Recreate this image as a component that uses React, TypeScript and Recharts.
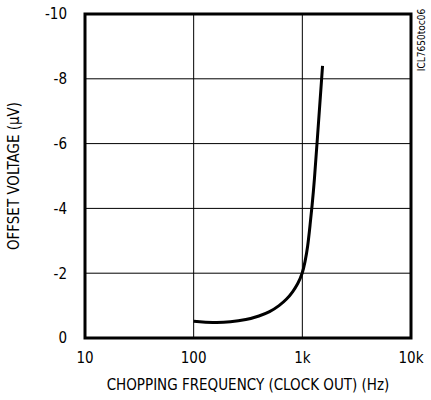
import { LineChart, Line, XAxis, YAxis, CartesianGrid, ReferenceArea } from 'recharts';

// Offset voltage vs chopping frequency (log x)
const freqHz = [100, 150, 220, 304, 403, 500, 615, 720, 815, 910, 1000, 1060, 1121, 1175, 1230, 1291, 1364, 1535];
const offsetUv = [-0.52, -0.47, -0.49, -0.56, -0.68, -0.8, -1.0, -1.2, -1.42, -1.67, -1.98, -2.35, -2.81, -3.45, -4.08, -4.86, -5.99, -8.4];

const xTicks = [10, 100, 1000, 10000];
const xTickLabels = ['10', '100', '1k', '10k'];
const yTicks = [-10, -8, -6, -4, -2, 0];

const data = freqHz.map((f, i) => ({ f, v: offsetUv[i] }));

const font = "'Liberation Sans Narrow', 'DejaVu Sans Condensed', Arial, sans-serif";

export default function App() {
  return (
    <div style={{ position: 'fixed', left: 0, top: 0, width: 431, height: 400, background: '#fff', fontFamily: font }}>
      <LineChart width={431} height={400} data={data} margin={{ top: 14, right: 20, left: 0, bottom: 0 }}>
        <CartesianGrid stroke="#000" strokeWidth={1} />
        <XAxis
          dataKey="f"
          type="number"
          scale="log"
          domain={[10, 10000]}
          ticks={xTicks}
          tickFormatter={(v: number) => xTickLabels[xTicks.indexOf(v)] ?? String(v)}
          allowDataOverflow
          axisLine={false}
          tickLine={false}
          tickSize={0}
          tickMargin={14}
          height={62}
          tick={{ fill: '#000', fontSize: 15, fontFamily: font }}
          label={{ value: 'CHOPPING FREQUENCY (CLOCK OUT) (Hz)', position: 'insideBottom', offset: 10, fill: '#000', fontSize: 15, fontFamily: font }}
        />
        <YAxis
          type="number"
          domain={[-10, 0]}
          reversed
          ticks={yTicks}
          interval={0}
          axisLine={false}
          tickLine={false}
          tickSize={0}
          tickMargin={18}
          width={85}
          tick={{ fill: '#000', fontSize: 15, fontFamily: font }}
          label={{ value: 'OFFSET VOLTAGE (µV)', angle: -90, position: 'insideLeft', offset: 14, fill: '#000', fontSize: 15, fontFamily: font, style: { textAnchor: 'middle' } }}
        />
        <ReferenceArea x1={10} x2={10000} y1={-10} y2={0} fill="none" stroke="#000" strokeWidth={3} ifOverflow="visible" />
        <Line type="basis" dataKey="v" stroke="#000" strokeWidth={3} dot={false} isAnimationActive={false} />
      </LineChart>
      <div
        style={{
          position: 'absolute',
          left: 421,
          top: 40,
          transform: 'translate(-50%, -50%) rotate(-90deg)',
          fontSize: 10,
          whiteSpace: 'nowrap',
          color: '#000',
        }}
      >
        ICL7650toc06
      </div>
    </div>
  );
}
